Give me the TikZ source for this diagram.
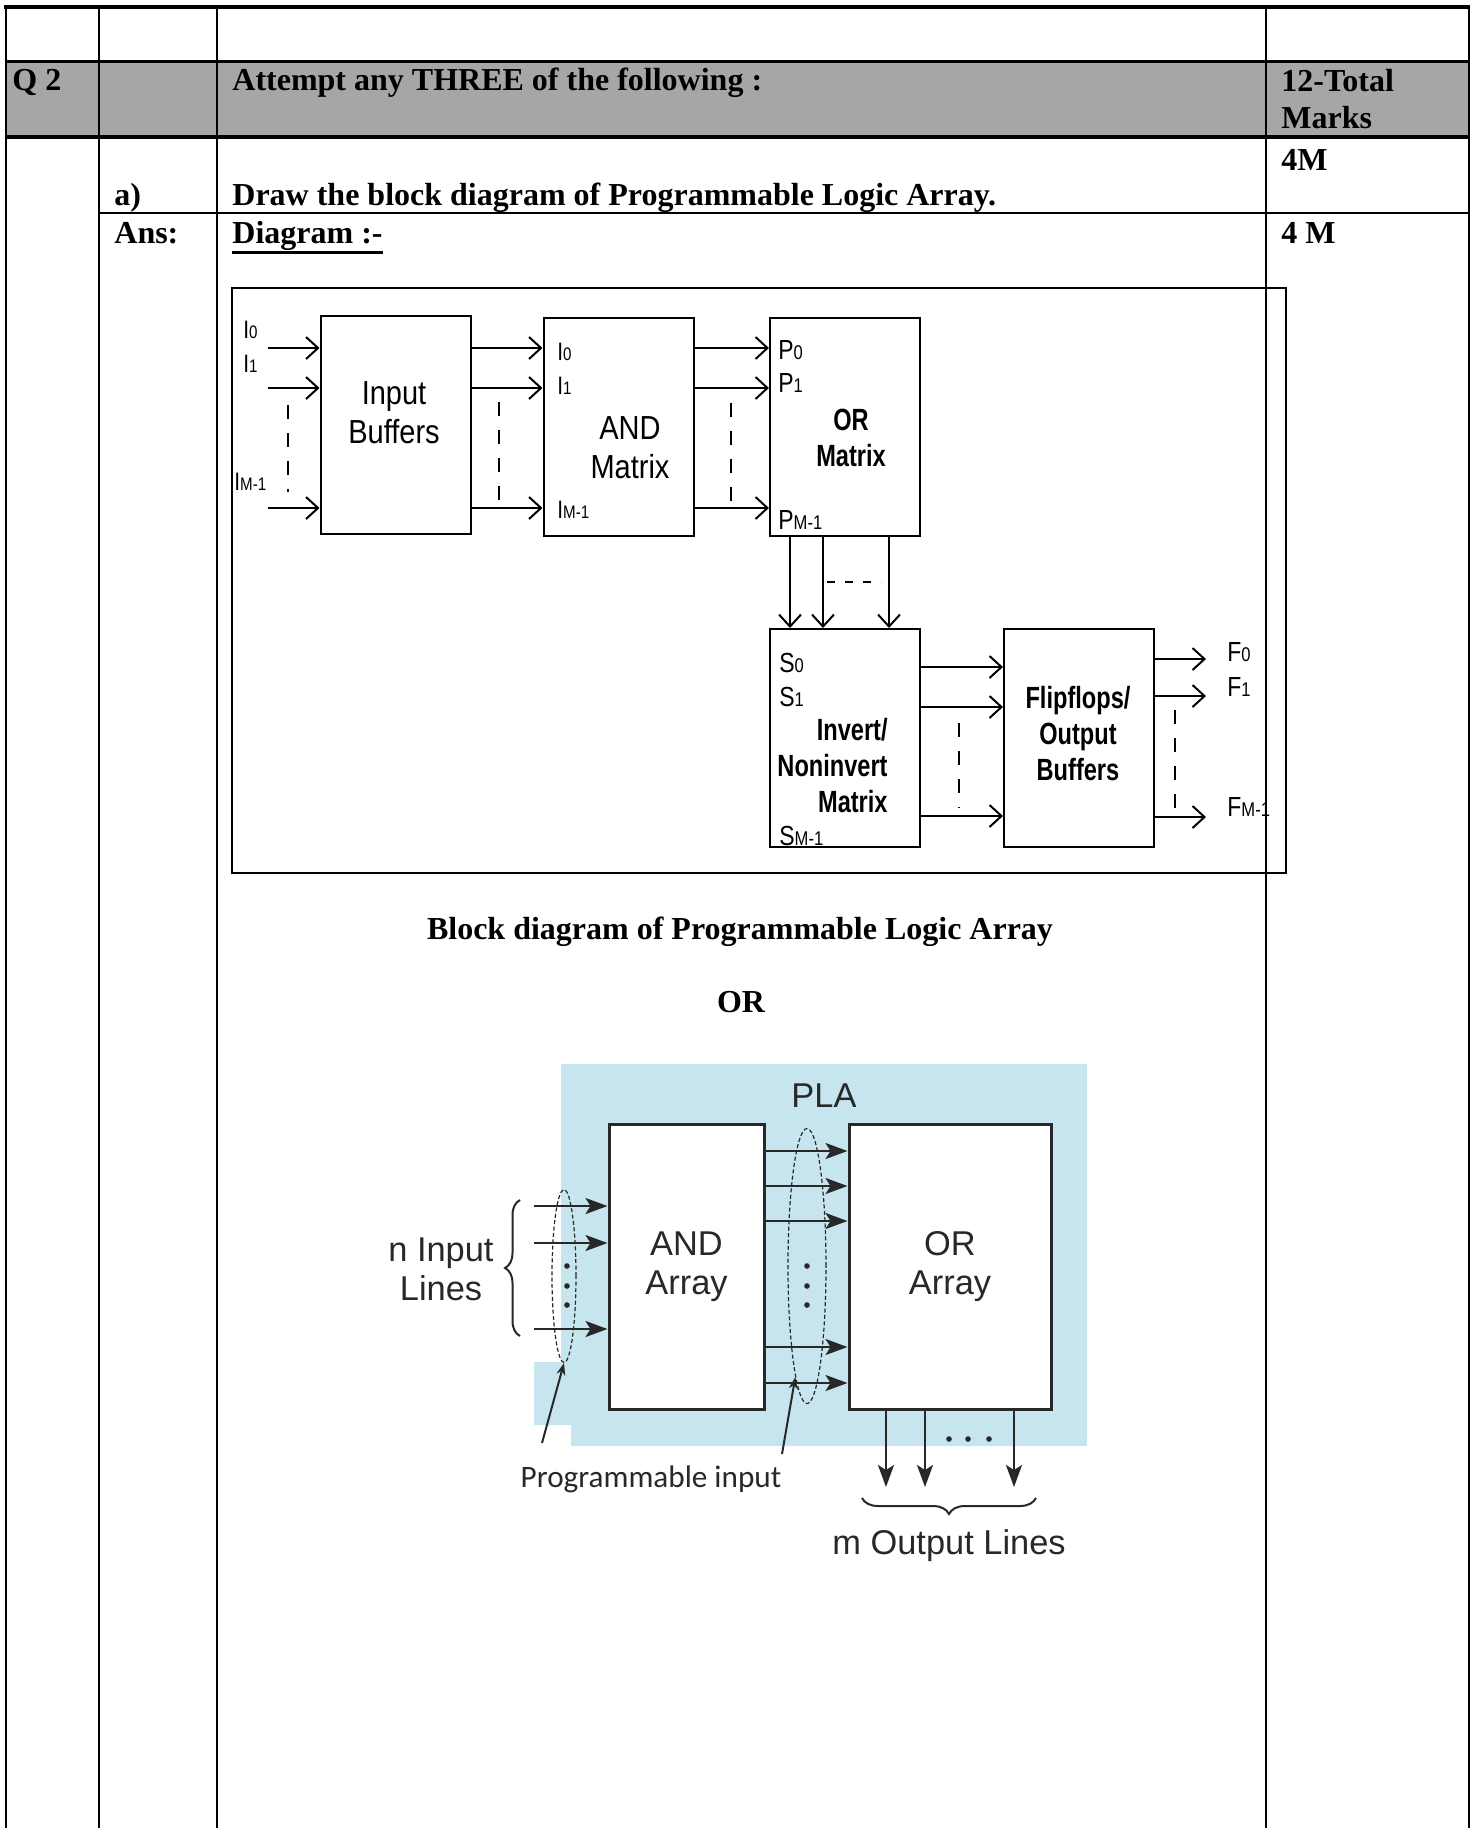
\documentclass[tikz,border=0pt]{standalone}
\usepackage{fontspec}
\setmainfont{Liberation Serif}
\newfontfamily\arialfont{Liberation Sans}
\newfontfamily\calfont{Carlito}
\usetikzlibrary{arrows.meta,shapes.geometric,decorations.pathreplacing}
\definecolor{hdrgray}{RGB}{166,166,166}
\definecolor{plablue}{RGB}{199,229,238}
\definecolor{ink}{RGB}{40,40,40}
\newcommand{\tall}[2][1.15]{\scalebox{1}[#1]{#2}}
\newcommand{\lo}[1]{\scalebox{0.72}{#1}}
\newcommand{\pinlab}[2]{\tall[1.2]{#1\lo{#2}}}

\begin{document}
\begin{tikzpicture}[x=0.5pt, y=-0.5pt, >=Stealth,
    cell/.style={inner sep=0, anchor=base west, font=\bfseries\fontsize{16}{18.5}\selectfont},
    grid/.style={line width=1pt},
    blk/.style={draw, line width=1pt, minimum width=75pt, minimum height=109pt, inner sep=0},
    big/.style={inner sep=0, font=\arialfont\fontsize{14.5}{17}\selectfont},
    bold/.style={inner sep=0, font=\arialfont\bfseries\fontsize{11.8}{13.8}\selectfont},
    pin/.style={inner sep=0, anchor=west, font=\arialfont\fontsize{11.5}{12}\selectfont},
    pinS/.style={pin, font=\arialfont\fontsize{10.5}{11}\selectfont},
    sig/.style={line width=1pt, -{Straight Barb[length=6pt,width=11pt]}},
    gap/.style={line width=0.8pt, dash pattern=on 7pt off 7pt},
    arr/.style={draw=ink, fill=white, line width=1.5pt, minimum width=77.5pt, minimum height=142.5pt, inner sep=0,
      font=\arialfont\fontsize{17.2}{19.5}\selectfont, text=ink, align=center},
    grey/.style={inner sep=0, font=\arialfont\fontsize{17.2}{19.5}\selectfont, text=ink, align=center},
    feed/.style={draw=ink, line width=1.2pt, -{Stealth[length=11pt,width=8pt,inset=2.5pt]}},
    ring/.style={draw=ink, ellipse, line width=0.6pt, dash pattern=on 2pt off 1.2pt, inner sep=0},
    poke/.style={draw=ink, line width=1pt, -{Stealth[length=6pt,width=4.5pt]}},
    dot/.style={circle, fill=ink, inner sep=0, minimum size=2.8pt}]
  \useasboundingbox (0,0) rectangle (1475,1828);
  % table
  \fill[hdrgray] (5,61) rectangle (1469,137);
  \draw[line width=2pt] (4,7) -- (1470,7);
  \draw[line width=1.5pt] (5,61) -- (1469,61);
  \draw[line width=2.25pt] (5,137) -- (1469,137);
  \draw[line width=0.75pt] (99,213) -- (1469,213);
  \foreach \cx in {6,99,217,1266,1469} \draw[grid] (\cx,7) -- (\cx,1828);
  \node[cell] (q)    at (12,90)   {Q 2};
  \node[cell] (att)  at (232,90)  {Attempt any THREE of the following :};
  \node[cell] (tot)  at (1281,91) {12-Total};
  \node[cell] (mk)   at ([yshift=-18.5pt]tot.base west) {Marks};
  \node[cell] (m4a)  at (1281,170) {4M};
  \node[cell] (qa)   at (114,205) {a)};
  \node[cell] (qtxt) at (232,205) {Draw the block diagram of Programmable Logic Array.};
  \node[cell] (ans)  at (114,243) {Ans:};
  \node[cell] (dg)   at (232,243) {Diagram :-};
  \draw[line width=1.5pt] ([yshift=-4.5pt]dg.base west) -- ([yshift=-4.5pt]dg.base east);
  \node[cell] (m4b)  at (1281,243) {4 M};

  % block diagram 1
  \draw[line width=1pt] (232,288) rectangle (1286,873);
  \node[blk] (ib)   at (395.5,425) {};
  \node[blk] (andm) at (618.5,427) {};
  \node[blk] (orm)  at (845,427)   {};
  \node[blk] (inv)  at (845,738)   {};
  \node[blk] (ff)   at (1079,738)  {};
  \node[big] (ibtxt)  at (394,416) {\tall{\begin{tabular}{@{}c@{}}Input\\Buffers\end{tabular}}};
  \node[big] (andtxt) at (630,451) {\tall{\begin{tabular}{@{}c@{}}AND\\Matrix\end{tabular}}};
  \node[bold] (ortxt) at (851,441) {\tall[1.3]{\begin{tabular}{@{}c@{}}OR\\Matrix\end{tabular}}};
  \node[bold, anchor=east] (invtxt) at (888,769) {\tall[1.3]{\begin{tabular}{@{}r@{}}Invert/\\Noninvert\\Matrix\end{tabular}}};
  \node[bold] (fftxt) at (1078,737) {\tall[1.3]{\begin{tabular}{@{}c@{}}Flipflops/\\Output\\Buffers\end{tabular}}};

  \coordinate (i0) at (268,348); \coordinate (i1) at (268,388); \coordinate (i2) at (268,508);
  \foreach \k in {0,1,2} {
    \draw[sig] (i\k) -- (i\k -| ib.west);
    \draw[sig] (ib.east |- i\k) -- (andm.west |- i\k);
    \draw[sig] (andm.east |- i\k) -- (orm.west |- i\k);
  }
  \coordinate (v0) at (790,582); \coordinate (v1) at (823,582); \coordinate (v2) at (889,582);
  \foreach \k in {0,1,2} \draw[sig] (orm.south -| v\k) -- (inv.north -| v\k);
  \coordinate (h0) at (960,667); \coordinate (h1) at (960,707); \coordinate (h2) at (960,816);
  \coordinate (o0) at (1206,659); \coordinate (o1) at (1206,696); \coordinate (o2) at (1206,817);
  \foreach \k in {0,1,2} {
    \draw[sig] (inv.east |- h\k) -- (ff.west |- h\k);
    \draw[sig] (ff.east |- o\k) -- (o\k);
  }
  \draw[gap] (288,405) -- (288,492);
  \draw[gap] (499,402) -- (499,503);
  \draw[gap] (731,403) -- (731,503);
  \draw[gap] (959,723) -- (959,808);
  \draw[gap] (1175,710) -- (1175,810);
  \draw[line width=0.8pt, dash pattern=on 4pt off 5pt] ([xshift=2pt]v1) -- ([xshift=-4pt]v2);

  \node[pinS] (li0) at (243,330) {\pinlab{I}{0}};
  \node[pinS] (li1) at (243,364) {\pinlab{I}{1}};
  \node[pinS] (li2) at (234,482) {\pinlab{I}{M-1}};
  \node[pinS] (la0) at (557,352) {\pinlab{I}{0}};
  \node[pinS] (la1) at (557,386) {\pinlab{I}{1}};
  \node[pinS] (la2) at (557,510) {\pinlab{I}{M-1}};
  \node[pin] (lp0) at (778,350) {\pinlab{P}{0}};
  \node[pin] (lp1) at (778,383) {\pinlab{P}{1}};
  \node[pin] (lp2) at (778,520) {\pinlab{P}{M-1}};
  \node[pin] (ls0) at (779,663) {\pinlab{S}{0}};
  \node[pin] (ls1) at (779,697) {\pinlab{S}{1}};
  \node[pin] (ls2) at (779,836) {\pinlab{S}{M-1}};
  \node[pin] (lf0) at (1227,652) {\pinlab{F}{0}};
  \node[pin] (lf1) at (1227,687) {\pinlab{F}{1}};
  \node[pin] (lf2) at (1227,807) {\pinlab{F}{M-1}};

  \node[inner sep=0, anchor=base, font=\bfseries\fontsize{16}{18.5}\selectfont] (cap1) at (740,939) {Block diagram of Programmable Logic Array};
  \node[inner sep=0, anchor=base, font=\bfseries\fontsize{16}{18.5}\selectfont] (orword) at (741,1012) {OR};

  % block diagram 2
  \fill[plablue] (561,1064) -- (1087,1064) -- (1087,1446) -- (571,1446) -- (571,1425)
     -- (534,1425) -- (534,1362) -- (561,1362) -- cycle;
  \node[grey] (pla) at (824,1096) {PLA};
  \node[arr] (anda) at (686.5,1266.5) {AND\\Array};
  \node[arr, minimum width=101pt] (ora) at (950,1266.5) {OR\\Array};
  \node[grey] (nin) at (441,1269) {n Input\\Lines};
  \draw[ink, line width=1pt, decorate, decoration={brace, amplitude=7.5pt}] (520,1336) -- (520,1200);

  \foreach \yy/\n in {1206/0,1243/1,1329/2} {
    \coordinate (p\n) at (534,\yy);
    \draw[feed] (p\n) -- (p\n -| anda.west);
  }
  \foreach \yy/\n in {1151/0,1186/1,1221/2,1347/3,1383/4} {
    \coordinate (q\n) at (806,\yy);
    \draw[feed] (anda.east |- q\n) -- (ora.west |- q\n);
  }
  \foreach \xx/\n in {886/0,925/1,1014/2} {
    \coordinate (e\n) at (\xx,1487);
    \draw[feed] (ora.south -| e\n) -- (e\n);
  }
  \foreach \yy in {1266,1286,1305} {
    \node[dot] (dl\yy) at (567,\yy) {};
    \node[dot] (dm\yy) at (807,\yy) {};
  }
  \foreach \xx in {949,968,989} \node[dot] (db\xx) at (\xx,1439) {};
  \node[ring, minimum width=12pt, minimum height=86.5pt] (el1) at (564,1276) {};
  \node[ring, minimum width=19pt, minimum height=137.5pt] (el2) at (807,1266) {};

  \node[inner sep=0, font=\calfont\fontsize{15.6}{18}\selectfont, text=ink] (prog) at (651,1479) {Programmable input};
  \coordinate (t1) at (542,1443); \coordinate (t2) at (782,1454);
  \draw[poke] (t1) -- (el1.south);
  \draw[poke] (t2) -- (el2.-96);
  \draw[ink, line width=1pt, decorate, decoration={brace, amplitude=8pt}] (1036,1498) -- (862,1498);
  \node[grey] (mout) at (949,1546) {m Output Lines};
\end{tikzpicture}
\end{document}
